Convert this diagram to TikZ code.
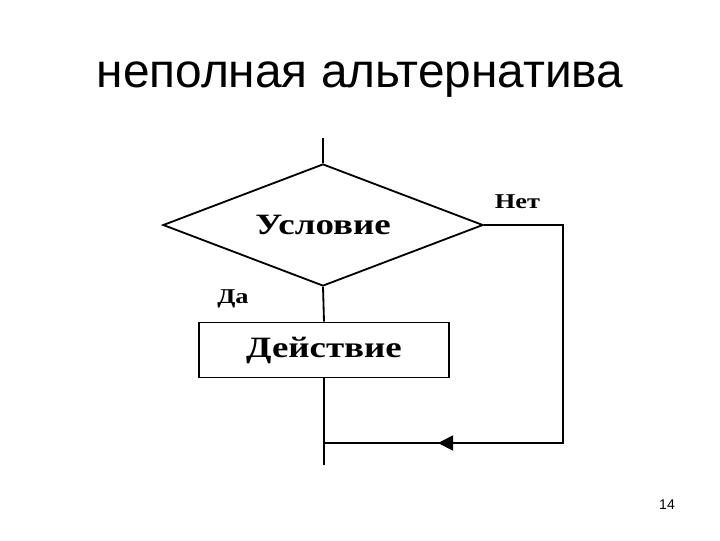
\documentclass[tikz,border=0pt]{standalone}
\usepackage{fontspec}
\setmainfont{Liberation Serif}
\newfontfamily\slidefont{Liberation Sans}
\newfontfamily\chartfont[FakeStretch=1.25]{Liberation Serif}
\usetikzlibrary{shapes,arrows.meta,positioning,calc}

\begin{document}
\begin{tikzpicture}[x=0.025cm, y=-0.025cm,
    cond/.style={diamond, draw, line width=1.3pt, shape aspect=2.62, minimum width=8cm, minimum height=3.05cm, inner sep=0pt, font=\chartfont\bfseries\fontsize{21}{24}\selectfont},
    action/.style={rectangle, draw, line width=1.3pt, minimum width=6.25cm, minimum height=1.375cm, inner sep=0pt, font=\chartfont\bfseries\fontsize{21}{24}\selectfont},
    line/.style={line width=1.3pt},
    tag/.style={font=\chartfont\bfseries\fontsize{15}{17}\selectfont}
]
    \useasboundingbox (0,0) rectangle (720,540);
    \node[font=\slidefont\fontsize{34}{40}\selectfont, anchor=base] (title) at (360,87) {неполная альтернатива};

    \coordinate (start) at (323,138);
    \node[cond] (condition) at (323,225) {Условие};
    \node[action] (act) at (324,350) {Действие};
    \coordinate (ret) at (563,443);
    \coordinate (join) at (324,443);
    \coordinate (tip) at (438,443);
    \coordinate (stop) at (324,465);

    \node[tag, anchor=base west] (no) at (490,208) {Нет};
    \node[tag, anchor=base] (yes) at (233,303) {Да};

    \draw[line] (start) -- (condition.north);
    \draw[line] (condition.south) -- (act.north);
    \draw[line] (act.south) -- (stop);
    \draw[line] (condition.east) -| (ret) -- (join);
    \draw[line, -{Triangle[length=0.38cm, width=0.38cm]}] (ret) -- (tip);

    \node[font=\slidefont\fontsize{10}{12}\selectfont] (page) at (667,505) {14};
\end{tikzpicture}
\end{document}
